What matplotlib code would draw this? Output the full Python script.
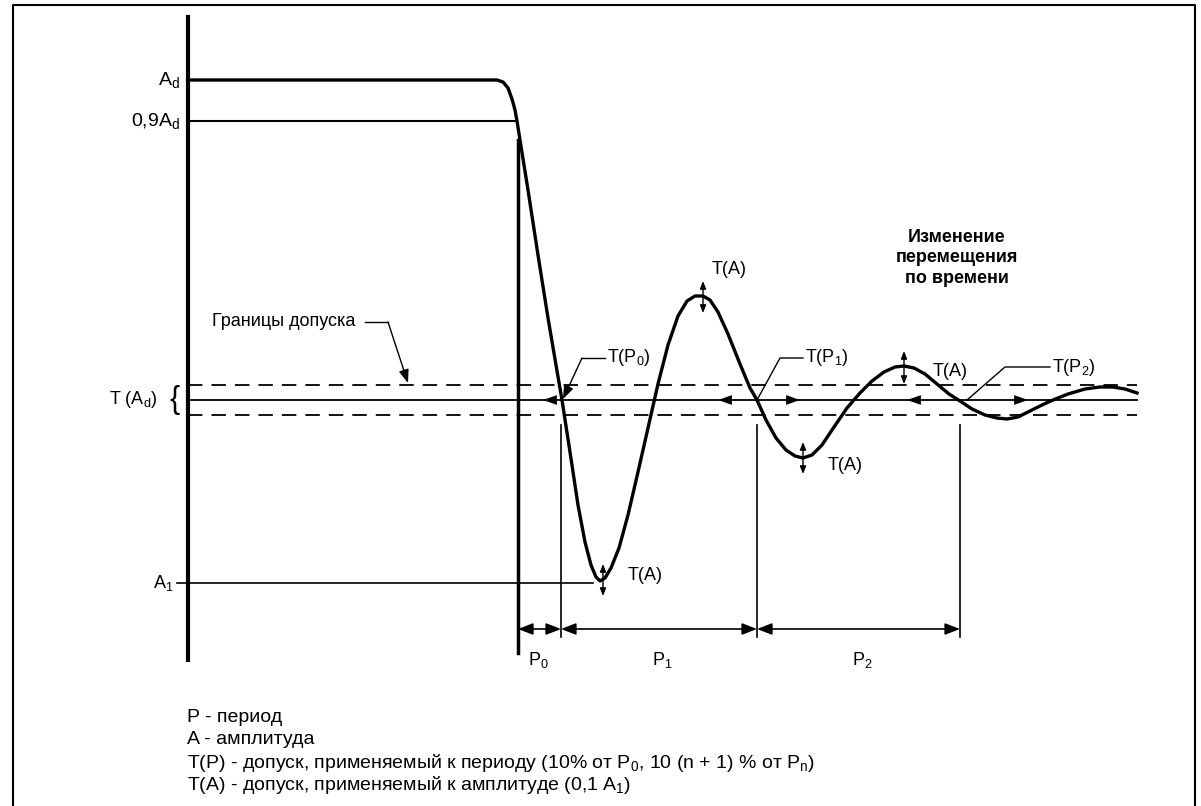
import numpy as np
import matplotlib.pyplot as plt

plt.rcParams['font.family'] = ['Liberation Sans', 'DejaVu Sans']
plt.rcParams['mathtext.fontset'] = 'custom'
plt.rcParams['mathtext.rm'] = 'Liberation Sans'
plt.rcParams['mathtext.it'] = 'Liberation Sans'

# diagram units: x = time, y = displacement drawn downward (picture coordinates)
zero_y = 400
tol_upper = 385
tol_lower = 415
level_Ad = 80
level_09Ad = 121
level_A1 = 583

axis_x = 188
release_x = 518
period_ends = [518, 561, 757, 960]
period_names = ['P$_0$', 'P$_1$', 'P$_2$']
period_label_x = [538, 662, 862]

# displacement trace
curve_x = [188, 497, 503, 508, 512, 515, 517, 520, 528, 538, 548, 556, 562, 570, 578, 585,
           591, 596, 600, 605, 611, 619, 628, 638, 648, 658, 668, 678, 687, 695, 703,
           710, 718, 728, 740, 750, 757, 766, 776, 786, 795, 803, 812, 822, 834, 847,
           860, 872, 884, 895, 904, 914, 925, 937, 949, 960, 972, 985, 997, 1007, 1018,
           1030, 1042, 1053, 1068, 1085, 1100, 1113, 1125, 1137]
curve_y = [80, 80, 82, 88, 99, 110, 121, 140, 190, 255, 318, 365, 400, 452, 505, 542,
           565, 577, 581, 578, 568, 548, 515, 472, 428, 384, 345, 316, 301, 296, 296,
           300, 312, 334, 364, 388, 400, 420, 438, 450, 456, 458, 455, 445, 427, 408,
           393, 381, 372, 367, 366, 368, 374, 384, 394, 401, 409, 415, 418, 419, 417,
           411, 405, 400, 394, 389, 387, 387, 389, 393]

# tolerance marks on the zero line: (tip x, direction)
tp_arrow_x = [543, 718, 800, 907, 1028]
tp_arrow_dir = [-1, -1, 1, -1, 1]

# amplitude tolerance marks at extrema
ta_x = [603, 703, 803, 904]
ta_lo = [564, 281, 442, 351]
ta_hi = [596, 313, 474, 384]
ta_label_x = [628, 712, 828, 933]
ta_label_y = [575, 270, 465, 372]

legend_lines = [
    'P - период',
    'A - амплитуда',
    'T(P) - допуск, применяемый к периоду (10% от P$_0$, 10 (n + 1) % от P$_n$)',
    'T(A) - допуск, применяемый к амплитуде (0,1 A$_1$)',
]
legend_y = [718, 740, 763, 785]

fig = plt.figure(figsize=(12.01, 8.06), dpi=100)
ax = fig.add_axes([0, 0, 1, 1])
ax.set_xlim(0, 1201)
ax.set_ylim(806, 0)
ax.axis('off')

k = 'black'
fs = 13

# frame
ax.plot([13, 13, 1195, 1195], [806, 5, 5, 806], color=k, lw=1.5)

# axes of the diagram
ax.plot([axis_x, axis_x], [17, 660], color=k, lw=3)
ax.plot([release_x, release_x], [140, 653], color=k, lw=2.5)

# reference levels
ax.plot([axis_x, curve_x[1]], [level_Ad, level_Ad], color=k, lw=1.5)
ax.plot([axis_x, 517], [level_09Ad, level_09Ad], color=k, lw=1.5)
ax.plot([177, 593], [level_A1, level_A1], color=k, lw=1.2)

ax.plot([axis_x, 1137], [zero_y, zero_y], color=k, lw=1.3)
for yy in (tol_upper, tol_lower):
    ax.plot([axis_x, 1137], [yy, yy], color=k, lw=1.3, dashes=(8, 5))

# the trace
ax.plot(curve_x, curve_y, color=k, lw=2.4, solid_joinstyle='round')

# period marks
for xx in period_ends[1:]:
    ax.plot([xx, xx], [425, 637], color=k, lw=1.2)
for a, b, name, lx in zip(period_ends[:-1], period_ends[1:], period_names, period_label_x):
    ax.annotate('', xy=(a, 629), xytext=(b, 629),
                arrowprops=dict(arrowstyle='<|-|>,head_length=0.9,head_width=0.35',
                                color=k, lw=1.2, shrinkA=0, shrinkB=0))
    ax.text(lx, 660, name, fontsize=fs, ha='center', va='center')

# period tolerance arrowheads
for xx, d in zip(tp_arrow_x, tp_arrow_dir):
    ax.annotate('', xy=(xx, zero_y), xytext=(xx - 16 * d, zero_y),
                arrowprops=dict(arrowstyle='-|>,head_length=1.0,head_width=0.35',
                                color=k, lw=0, shrinkA=0, shrinkB=0))

# amplitude tolerance double arrows
for xx, lo, hi in zip(ta_x, ta_lo, ta_hi):
    ax.annotate('', xy=(xx, lo), xytext=(xx, hi),
                arrowprops=dict(arrowstyle='<|-|>,head_length=0.45,head_width=0.18',
                                color=k, lw=1.0, shrinkA=0, shrinkB=0))
for xx, yy in zip(ta_label_x, ta_label_y):
    ax.text(xx, yy, 'T(A)', fontsize=fs, ha='left', va='center')

# period tolerance callouts
ax.text(607, 358, 'T(P$_0$)', fontsize=fs, ha='left', va='center')
ax.plot([605, 582], [358, 358], color=k, lw=1.0)
ax.annotate('', xy=(563, 399), xytext=(582, 358),
            arrowprops=dict(arrowstyle='-|>,head_length=0.8,head_width=0.3',
                            color=k, lw=1.0, shrinkA=0, shrinkB=0))
ax.text(805, 358, 'T(P$_1$)', fontsize=fs, ha='left', va='center')
ax.plot([803, 780, 757], [358, 358, 400], color=k, lw=1.0)
ax.text(1052, 367, 'T(P$_2$)', fontsize=fs, ha='left', va='center')
ax.plot([1050, 1005, 967], [367, 367, 400], color=k, lw=1.0)

# tolerance band callout
ax.text(212, 322, 'Границы допуска', fontsize=fs, ha='left', va='center')
ax.plot([365, 388], [322, 322], color=k, lw=1.0)
ax.annotate('', xy=(408, 383), xytext=(388, 322),
            arrowprops=dict(arrowstyle='-|>,head_length=0.8,head_width=0.3',
                            color=k, lw=1.0, shrinkA=0, shrinkB=0))

# level labels
ax.text(180, level_Ad, 'A$_d$', fontsize=fs + 1, ha='right', va='center')
ax.text(180, level_09Ad, '0,9A$_d$', fontsize=fs + 1, ha='right', va='center')
ax.text(158, zero_y, 'T (A$_d$)', fontsize=fs, ha='right', va='center')
ax.text(175, zero_y, '{', fontsize=22, ha='center', va='center')
ax.text(174, level_A1, 'A$_1$', fontsize=fs, ha='right', va='center')

ax.text(957, 258, 'Изменение\nперемещения\nпо времени', fontsize=fs, ha='center',
        va='center', linespacing=1.25, fontweight='bold')

for line, yy in zip(legend_lines, legend_y):
    ax.text(187, yy, line, fontsize=fs + 1, ha='left', va='center')

fig.savefig('out.png', dpi=100)
